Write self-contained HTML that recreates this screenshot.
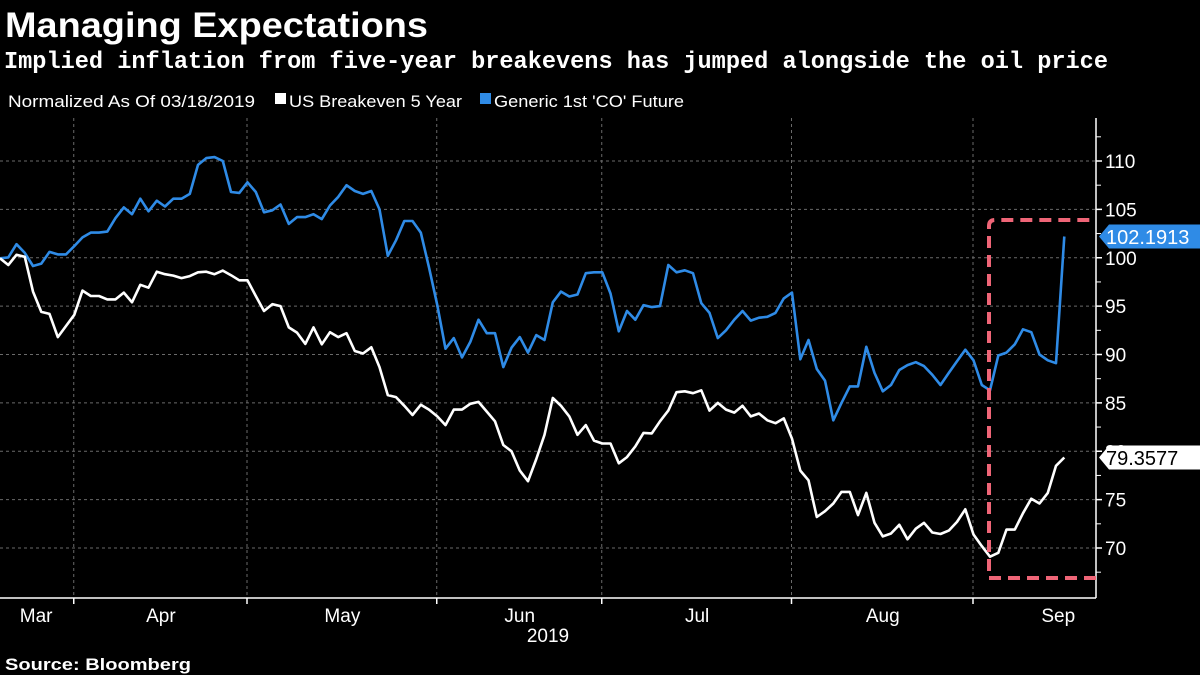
<!DOCTYPE html>
<html><head><meta charset="utf-8"><style>
html,body{margin:0;padding:0;background:#000;}
svg{display:block;}
</style></head><body>
<svg id="chart" width="1200" height="675" viewBox="0 0 1200 675" xmlns="http://www.w3.org/2000/svg">
<rect width="1200" height="675" fill="#000"/>
<text x="5" y="37" fill="#fff" font-family="Liberation Sans, sans-serif" font-weight="bold" font-size="35" textLength="423" lengthAdjust="spacingAndGlyphs">Managing Expectations</text>
<text x="4" y="68" fill="#fff" font-family="Liberation Mono, monospace" font-weight="bold" font-size="24" textLength="1104" lengthAdjust="spacingAndGlyphs">Implied inflation from five-year breakevens has jumped alongside the oil price</text>
<text x="8" y="107" fill="#fff" font-family="Liberation Sans, sans-serif" font-size="17" textLength="247" lengthAdjust="spacingAndGlyphs">Normalized As Of 03/18/2019</text>
<rect x="275" y="93" width="11" height="11" fill="#fff"/>
<text x="289" y="107" fill="#fff" font-family="Liberation Sans, sans-serif" font-size="17" textLength="173" lengthAdjust="spacingAndGlyphs">US Breakeven 5 Year</text>
<rect x="480" y="93" width="11" height="11" fill="#2f8be6"/>
<text x="494" y="107" fill="#fff" font-family="Liberation Sans, sans-serif" font-size="17" textLength="190" lengthAdjust="spacingAndGlyphs">Generic 1st 'CO' Future</text>
<g id="grid"></g>
<g id="axes"></g>
<g id="series"></g>
<path d="M1096,578 L989,578 L989,226 Q989,220 995,220 L1096,220" fill="none" stroke="#ef6577" stroke-width="4" stroke-dasharray="12 7"/>
<g id="labels"></g>
<text x="548" y="642" fill="#fff" font-family="Liberation Sans, sans-serif" font-size="19" text-anchor="middle">2019</text>
<text x="5" y="670" fill="#fff" font-family="Liberation Sans, sans-serif" font-weight="bold" font-size="17" textLength="186" lengthAdjust="spacingAndGlyphs">Source: Bloomberg</text>
</svg>
<script>
const breakeven = [99.94,99.25,100.3,100.1,96.5,94.4,94.2,91.8,92.95,94.1,96.6,96.05,96.05,95.7,95.7,96.4,95.4,97.2,96.9,98.56,98.3,98.15,97.9,98.1,98.5,98.56,98.3,98.67,98.2,97.67,97.67,96.05,94.5,95.2,95.0,92.8,92.26,91.1,92.8,91.05,92.3,91.8,92.2,90.36,90.1,90.74,88.7,85.8,85.6,84.7,83.75,
84.8,84.3,83.6,82.7,84.3,84.3,84.9,85.1,84.1,83.1,80.65,80.0,78.0,76.9,79.2,81.7,85.5,84.7,83.6,81.7,82.7,81.1,80.8,80.8,78.75,79.4,80.5,81.9,81.85,83.1,84.2,86.1,86.2,86.0,86.3,84.2,85.0,84.3,84.0,84.7,83.6,83.9,83.2,82.9,83.4,81.3,78.0,77.0,
73.2,73.8,74.6,75.8,75.8,73.4,75.7,72.6,71.2,71.5,72.4,70.9,72.0,72.6,71.6,71.45,71.8,72.7,74.0,71.4,70.2,69.1,69.5,71.9,71.9,73.6,75.1,74.6,75.7,78.5,79.3577];
const oil = [99.94,100.04,101.4,100.5,99.15,99.4,100.6,100.35,100.35,101.2,102.1,102.6,102.6,102.7,104.1,105.2,104.5,106.1,104.8,105.9,105.3,106.1,106.1,106.6,109.6,110.3,110.4,110.0,106.8,106.7,107.8,106.8,104.7,104.9,105.5,103.5,104.2,104.2,104.5,104.0,105.4,106.3,107.5,106.9,106.6,106.9,105.0,100.2,101.8,103.8,103.8,
102.6,99.0,95.1,
90.6,91.7,89.7,91.3,93.6,92.2,92.2,88.7,90.7,91.8,90.2,92.0,91.5,95.4,96.5,96.0,96.2,98.4,98.5,98.5,96.3,92.4,94.5,93.6,95.1,94.9,95.0,99.25,98.5,98.7,98.4,95.3,94.3,91.7,92.5,93.6,94.5,93.5,93.8,93.9,94.3,95.8,96.4,89.5,91.5,
88.5,87.3,83.2,85.0,86.7,86.7,90.8,88.1,86.2,86.85,88.4,88.9,89.2,88.8,87.9,86.85,88.1,89.3,90.5,89.4,86.85,86.3,89.9,90.2,91.05,92.6,92.3,90.0,89.4,89.1,102.1913];
const yTicks = [70,75,80,85,90,95,100,105,110];
const yTickLabels = ["70","75","80","85","90","95","100","105","110"];
const monthStartIdx = [9,30,53,73,96,118];
const monthLabels = ["Mar","Apr","May","Jun","Jul","Aug","Sep"];
const lastLabels = ["102.1913","79.3577"];

const NS="http://www.w3.org/2000/svg";
const X0=0, DX=8.25, Y110=161, PPU=9.675, AXX=1096, TOP=118, BOT=598;
const xs=i=>X0+i*DX;
const ys=v=>Y110+(110-v)*PPU;
function mk(tag,attrs,parent){const e=document.createElementNS(NS,tag);for(const k in attrs)e.setAttribute(k,attrs[k]);parent.appendChild(e);return e;}
const grid=document.getElementById('grid'),axes=document.getElementById('axes'),series=document.getElementById('series'),labels=document.getElementById('labels');

yTicks.forEach((v,k)=>{
  const l=mk('line',{x1:0,x2:AXX,y1:ys(v),y2:ys(v),stroke:'#6a6a6a','stroke-width':1,'stroke-dasharray':'3 3'},grid);
  
  
  const t=mk('line',{x1:AXX,x2:AXX+6,y1:ys(v),y2:ys(v),stroke:'#fff','stroke-width':1.5},axes);
  
  
  const m=mk('line',{x1:AXX,x2:AXX+5,y1:ys(v+2.5),y2:ys(v+2.5),stroke:'#fff','stroke-width':1},axes);
  
  
  const tx=mk('text',{x:AXX+9,y:ys(v)+7,fill:'#fff','font-family':'Liberation Sans, sans-serif','font-size':19},axes);
  tx.textContent=yTickLabels[k];
  
  
});
const m0=mk('line',{x1:AXX,x2:AXX+5,y1:ys(67.5),y2:ys(67.5),stroke:'#fff','stroke-width':1},axes);



const bounds=[0].concat(monthStartIdx.map(xs)).concat([1143]);
monthStartIdx.forEach(i=>{
  const x=xs(i)-0.5;
  const g=mk('line',{x1:x,x2:x,y1:TOP,y2:BOT,stroke:'#6a6a6a','stroke-width':1,'stroke-dasharray':'3 3'},grid);
  
  
  const t=mk('line',{x1:x,x2:x,y1:BOT,y2:BOT+6,stroke:'#fff','stroke-width':1.5},axes);
  
  
});
monthLabels.forEach((lab,k)=>{
  const cx=(bounds[k]+bounds[k+1])/2 + (k===0?-1:0);
  const t=mk('text',{x:cx,y:622,fill:'#fff','font-family':'Liberation Sans, sans-serif','font-size':19,'text-anchor':'middle'},axes);
  t.textContent=lab;
  
  
});
const ax=mk('line',{x1:0,x2:AXX,y1:BOT,y2:BOT,stroke:'#fff','stroke-width':1.5},axes);


const ay=mk('line',{x1:AXX,x2:AXX,y1:TOP,y2:BOT,stroke:'#fff','stroke-width':1.5},axes);



function line(data,color,name){
  const d=data.map((v,i)=>(i?'L':'M')+xs(i).toFixed(1)+','+ys(v).toFixed(1)).join(' ');
  const p=mk('path',{d:d,fill:'none',stroke:color,'stroke-width':2.6,'stroke-linejoin':'round'},series);
  
  
}
line(oil,'#2f8be6','oil-line');
line(breakeven,'#ffffff','breakeven-line');

function tag(v,text,bg,fg,name){
  const y=ys(v);
  const p=mk('path',{d:`M${AXX+3},${y} L${AXX+13},${y-12} L1200,${y-12} L1200,${y+12} L${AXX+13},${y+12} Z`,fill:bg},labels);
  
  
  const t=mk('text',{x:AXX+10,y:y+7.5,fill:fg,'font-family':'Liberation Sans, sans-serif','font-size':20},labels);
  t.textContent=text;
  
  
}
tag(oil[oil.length-1],lastLabels[0],'#2f8be6','#fff','oil-last-value');
tag(breakeven[breakeven.length-1],lastLabels[1],'#fff','#000','breakeven-last-value');
</script>
</body></html>
